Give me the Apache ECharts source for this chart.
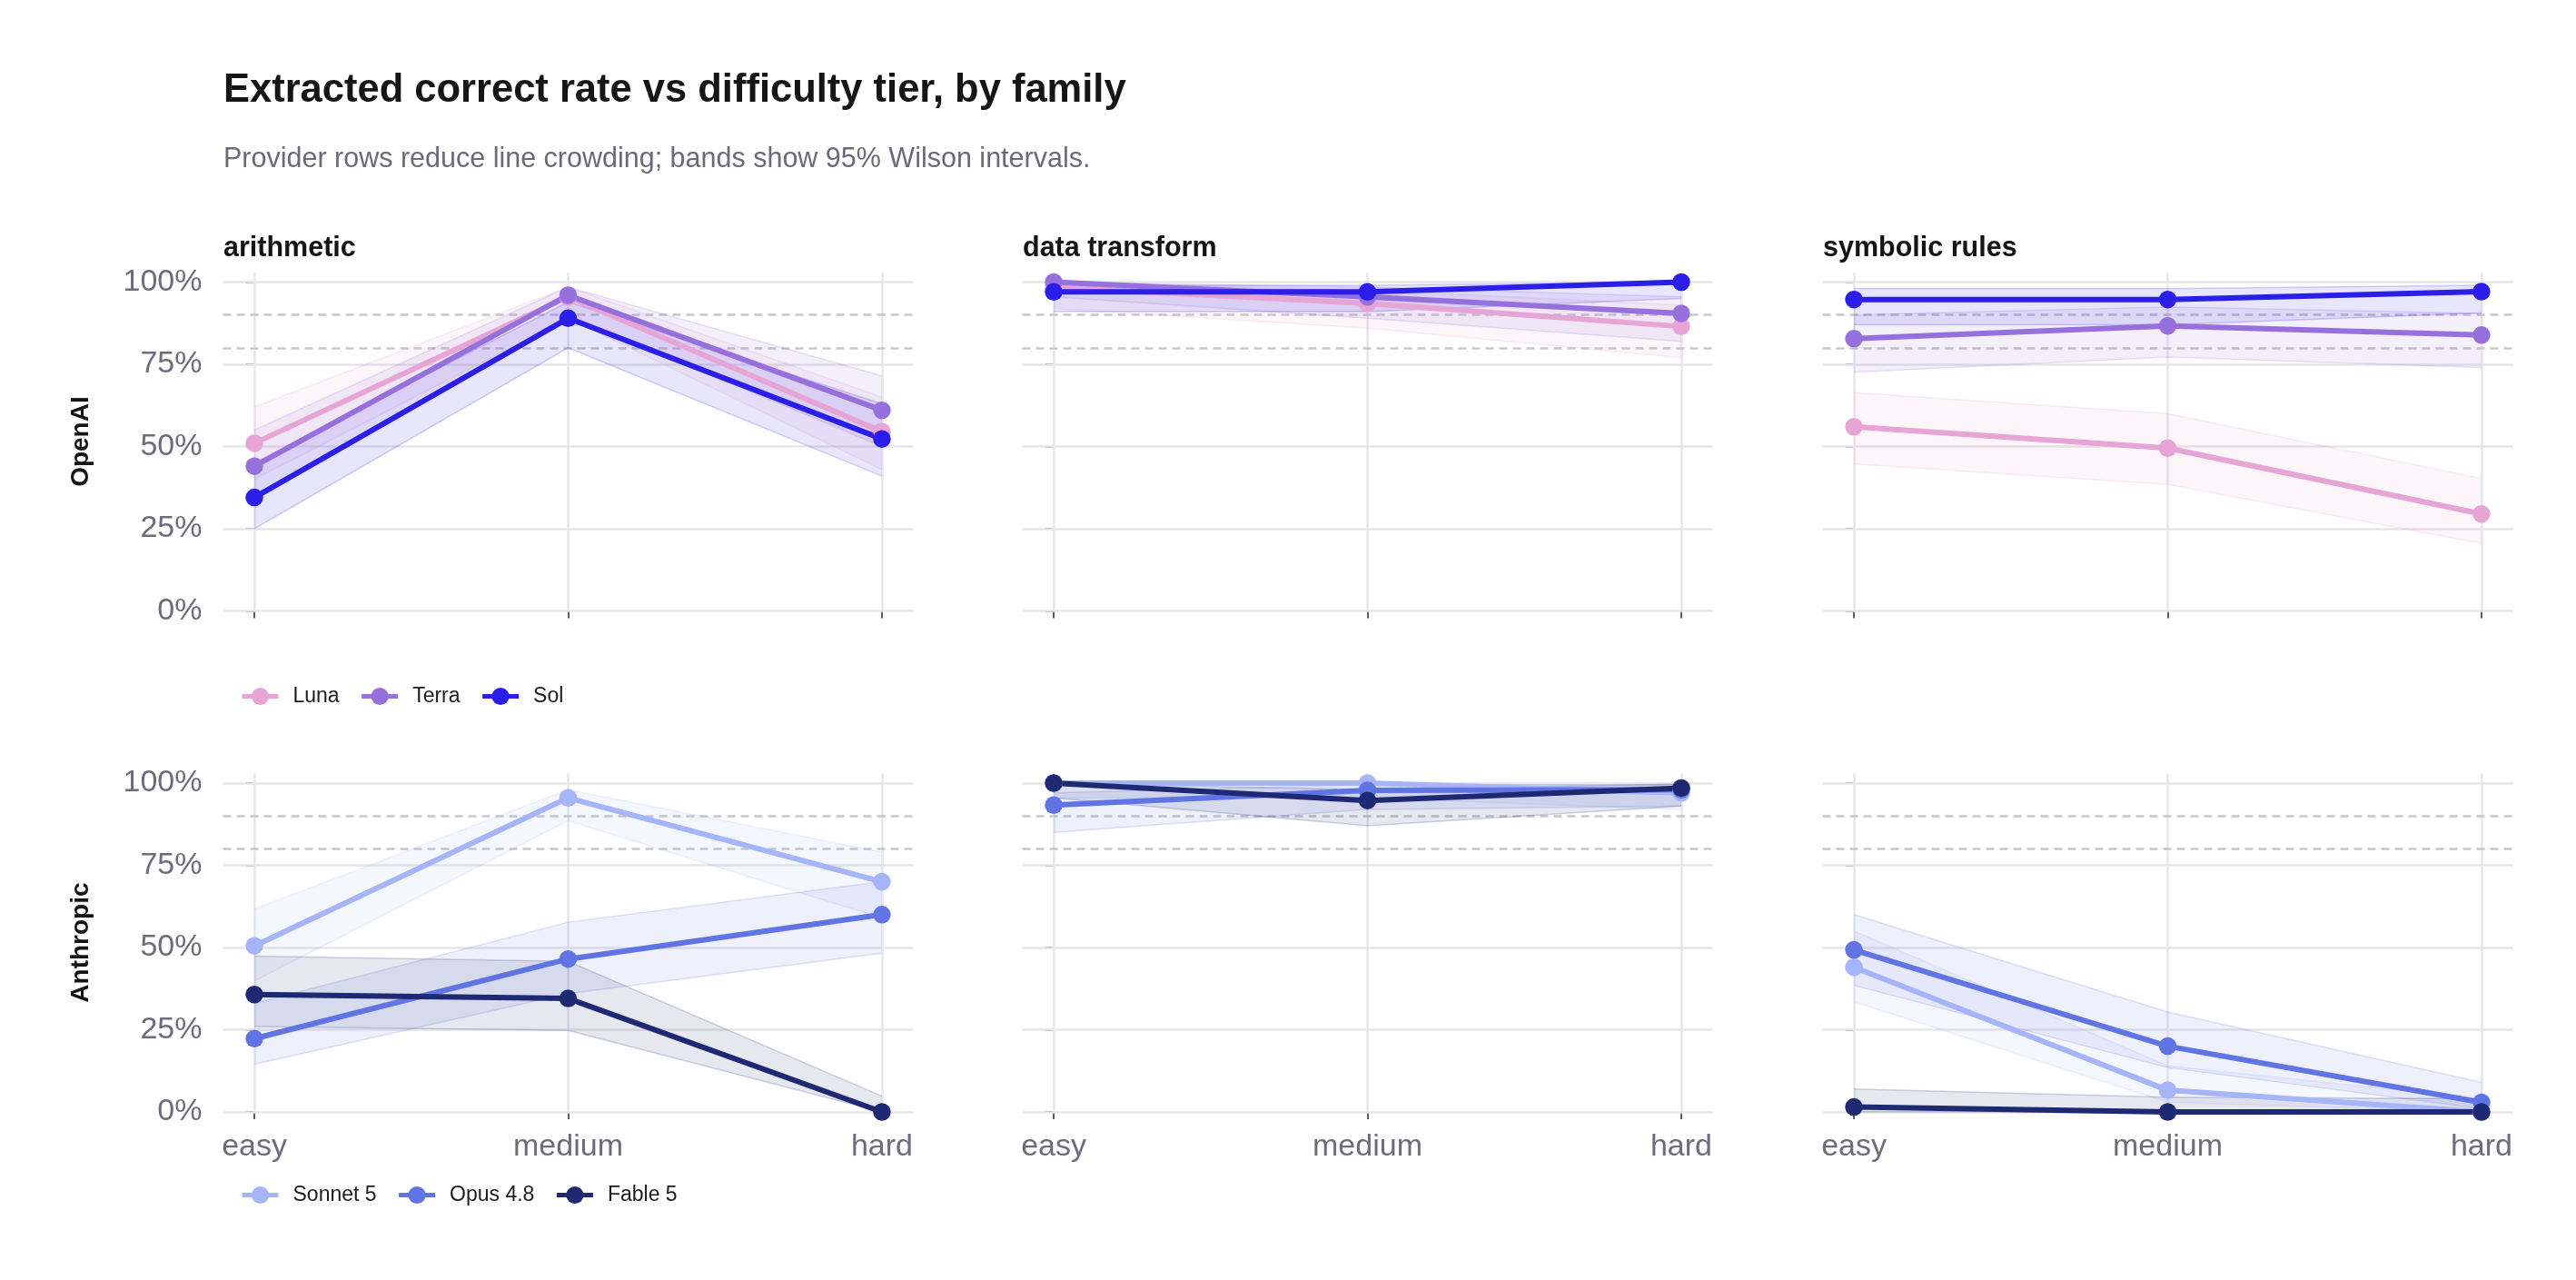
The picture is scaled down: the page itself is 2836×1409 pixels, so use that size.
<!DOCTYPE html>
<html>
<head>
<meta charset="utf-8">
<script src="https://cdn.jsdelivr.net/npm/echarts@6/dist/echarts.min.js"></script>
<style>
html,body{margin:0;padding:0;background:#fff;}
#chart{width:2836px;height:1409px;}
</style>
</head>
<body>
<div id="chart"></div>
<script>
// ---------- data ----------
const tiers = ['easy', 'medium', 'hard'];
const families = ['arithmetic', 'data transform', 'symbolic rules'];
const providers = ['OpenAI', 'Anthropic'];
const openaiModels = ['Luna', 'Terra', 'Sol'];
const anthropicModels = ['Sonnet 5', 'Opus 4.8', 'Fable 5'];
const yTicks = [0, 0.25, 0.5, 0.75, 1];
const thresholds = [0.8, 0.9];

// each array: [family][tier]
const lunaRate   = [[0.51, 0.955, 0.545], [0.985, 0.935, 0.865], [0.56, 0.495, 0.295]];
const lunaLow    = [[0.40, 0.89, 0.43],   [0.92, 0.86, 0.77],    [0.447, 0.385, 0.205]];
const lunaHigh   = [[0.62, 0.985, 0.65],  [1.0, 0.975, 0.93],    [0.664, 0.60, 0.403]];
const terraRate  = [[0.44, 0.96, 0.61],   [1.0, 0.955, 0.905],   [0.828, 0.867, 0.839]];
const terraLow   = [[0.34, 0.90, 0.50],   [0.955, 0.89, 0.82],   [0.726, 0.772, 0.74]];
const terraHigh  = [[0.55, 0.985, 0.715], [1.0, 0.985, 0.955],   [0.90, 0.925, 0.905]];
const solRate    = [[0.345, 0.89, 0.523], [0.97, 0.97, 1.0],     [0.947, 0.947, 0.971]];
const solLow     = [[0.25, 0.80, 0.41],   [0.91, 0.91, 0.95],    [0.87, 0.87, 0.906]];
const solHigh    = [[0.45, 0.94, 0.63],   [0.99, 0.99, 1.0],     [0.98, 0.98, 0.99]];
const sonnetRate = [[0.505, 0.955, 0.70], [1.0, 1.0, 0.97],      [0.44, 0.066, 0.0]];
const sonnetLow  = [[0.398, 0.886, 0.59], [0.955, 0.955, 0.92],  [0.335, 0.03, 0.0]];
const sonnetHigh = [[0.617, 0.98, 0.79],  [1.0, 1.0, 0.99],      [0.55, 0.14, 0.04]];
const opusRate   = [[0.223, 0.465, 0.60], [0.933, 0.978, 0.98],  [0.493, 0.20, 0.029]];
const opusLow    = [[0.145, 0.36, 0.483], [0.85, 0.92, 0.93],    [0.385, 0.135, 0.01]];
const opusHigh   = [[0.33, 0.577, 0.70],  [0.97, 0.995, 0.995],  [0.60, 0.304, 0.09]];
const fableRate  = [[0.357, 0.345, 0.0],  [1.0, 0.947, 0.985],   [0.015, 0.0, 0.0]];
const fableLow   = [[0.26, 0.248, 0.0],   [0.955, 0.87, 0.93],   [0.0, 0.0, 0.0]];
const fableHigh  = [[0.474, 0.458, 0.048],[1.0, 0.98, 0.997],    [0.07, 0.045, 0.04]];

// ---------- styling ----------
const FONT = '"Liberation Sans", Arial, Helvetica, sans-serif';
const modelColors = {
  'Luna': '#E6A5D4', 'Terra': '#9670DD', 'Sol': '#2B1EE8',
  'Sonnet 5': '#A6B4FA', 'Opus 4.8': '#6074E3', 'Fable 5': '#1F2973'
};
const rowModels = [
  [['Luna', lunaRate, lunaLow, lunaHigh], ['Terra', terraRate, terraLow, terraHigh], ['Sol', solRate, solLow, solHigh]],
  [['Sonnet 5', sonnetRate, sonnetLow, sonnetHigh], ['Opus 4.8', opusRate, opusLow, opusHigh], ['Fable 5', fableRate, fableLow, fableHigh]]
];
function rgba(hex, a) {
  const n = parseInt(hex.slice(1), 16);
  return 'rgba(' + ((n >> 16) & 255) + ',' + ((n >> 8) & 255) + ',' + (n & 255) + ',' + a + ')';
}

const colLeft = [245.5, 1125.5, 2006.5];
const colWidth = 760;
const rowBottom = [672.5, 1224];
const unitH = 362;
const yMax = 1.03;

const grids = [], xAxes = [], yAxes = [], series = [], titles = [];

titles.push({
  text: 'Extracted correct rate vs difficulty tier, by family',
  left: 246, top: 78, padding: 0,
  textStyle: { fontFamily: FONT, fontSize: 43.5, fontWeight: 'bold', color: '#151515' }
});
titles.push({
  text: 'Provider rows reduce line crowding; bands show 95% Wilson intervals.',
  left: 246, top: 160, padding: 0,
  textStyle: { fontFamily: FONT, fontSize: 30.5, fontWeight: 'normal', color: '#6c6a78' }
});
families.forEach((f, c) => {
  titles.push({
    text: f, left: colLeft[c] + 0.5, top: 258, padding: 0,
    textStyle: { fontFamily: FONT, fontSize: 30.5, fontWeight: 'bold', color: '#141414' }
  });
});

function bandRenderer(low, high, col) {
  return function (params, api) {
    if (params.dataIndex !== 0) return null;
    const up = tiers.map((t, i) => api.coord([i, high[i]]));
    const lo = tiers.map((t, i) => api.coord([i, low[i]]));
    return {
      type: 'group',
      children: [
        { type: 'polygon', shape: { points: up.concat(lo.slice().reverse()) },
          style: { fill: rgba(col, 0.11), stroke: null } },
        { type: 'polyline', shape: { points: up },
          style: { stroke: rgba(col, 0.2), lineWidth: 1.5, fill: null } },
        { type: 'polyline', shape: { points: lo },
          style: { stroke: rgba(col, 0.2), lineWidth: 1.5, fill: null } }
      ]
    };
  };
}

for (let r = 0; r < 2; r++) {
  for (let c = 0; c < 3; c++) {
    const idx = r * 3 + c;
    const h = unitH * yMax;
    grids.push({ left: colLeft[c], top: rowBottom[r] - h, width: colWidth, height: h, containLabel: false });
    xAxes.push({
      type: 'value', gridIndex: idx, min: -0.1, max: 2.1,
      axisLine: { show: false }, splitLine: { show: false },
      axisTick: { show: true, customValues: [0, 1, 2], length: 8, lineStyle: { color: '#5d5b67', width: 2 } },
      axisLabel: {
        show: r === 1, customValues: [0, 1, 2], margin: 22,
        formatter: v => tiers[Math.round(v)] || '',
        fontFamily: FONT, fontSize: 34, color: '#6e6c7b'
      }
    });
    yAxes.push({
      type: 'value', gridIndex: idx, min: 0, max: yMax,
      axisLine: { show: false }, splitLine: { show: false },
      axisTick: { show: true, customValues: yTicks, length: 9, lineStyle: { color: '#5d5b67', width: 2 } },
      axisLabel: {
        show: c === 0, customValues: yTicks, margin: 23,
        formatter: v => Math.round(v * 100) + '%',
        fontFamily: FONT, fontSize: 34, color: '#6e6c7b'
      },
      name: c === 0 ? providers[r] : '',
      nameLocation: 'middle', nameRotate: 90, nameGap: 142,
      nameTextStyle: { fontFamily: FONT, fontSize: 28, fontWeight: 'bold', color: '#141414' }
    });

    // grid lines and threshold lines
    series.push({
      type: 'line', name: 'grid' + idx, xAxisIndex: idx, yAxisIndex: idx, data: [],
      silent: true, animation: false, z: 1,
      markLine: {
        silent: true, symbol: ['none', 'none'], label: { show: false }, animation: false, z: 1,
        emphasis: { disabled: true },
        data: [
          ...yTicks.map(v => ({ yAxis: v, lineStyle: { color: '#e6e6e8', width: 2.5, type: 'solid' } })),
          ...[0, 1, 2].map(v => ({ xAxis: v, lineStyle: { color: '#e7e6eb', width: 2.5, type: 'solid' } })),
          ...thresholds.map(v => ({ yAxis: v, lineStyle: { color: '#c7c6cd', width: 2.7, type: [9, 6] } }))
        ]
      }
    });

    // bands (Wilson intervals)
    rowModels[r].forEach(([name, rate, low, high]) => {
      const col = modelColors[name];
      series.push({
        type: 'custom', name: name + ' band', xAxisIndex: idx, yAxisIndex: idx,
        data: tiers.map((t, i) => [i, low[c][i], high[c][i]]),
        encode: { x: 0, y: [1, 2] },
        renderItem: bandRenderer(low[c], high[c], col),
        silent: true, animation: false, z: 3
      });
    });
    // lines
    rowModels[r].forEach(([name, rate]) => {
      const col = modelColors[name];
      series.push({
        type: 'line', name: name, xAxisIndex: idx, yAxisIndex: idx,
        data: tiers.map((t, i) => [i, rate[c][i]]),
        symbol: 'circle', symbolSize: 19.5, animation: false, z: 4,
        lineStyle: { color: col, width: 6 }, itemStyle: { color: col }
      });
    });
  }
}

const legendBase = {
  left: 264, itemWidth: 40, itemHeight: 24, itemGap: 22, padding: 0,
  lineStyle: { width: 5 },
  textStyle: { fontFamily: FONT, fontSize: 23, color: '#1b1b1b', padding: [0, 0, 0, 11] }
};

const option = {
  backgroundColor: '#ffffff',
  animation: false,
  textStyle: { fontFamily: FONT },
  title: titles,
  grid: grids,
  xAxis: xAxes,
  yAxis: yAxes,
  legend: [
    Object.assign({}, legendBase, { data: openaiModels, top: 755 }),
    Object.assign({}, legendBase, { data: anthropicModels, top: 1304 })
  ],
  series: series
};

const chart = echarts.init(document.getElementById('chart'), null, { renderer: 'canvas', devicePixelRatio: 1 });
chart.setOption(option);
</script>
</body>
</html>
